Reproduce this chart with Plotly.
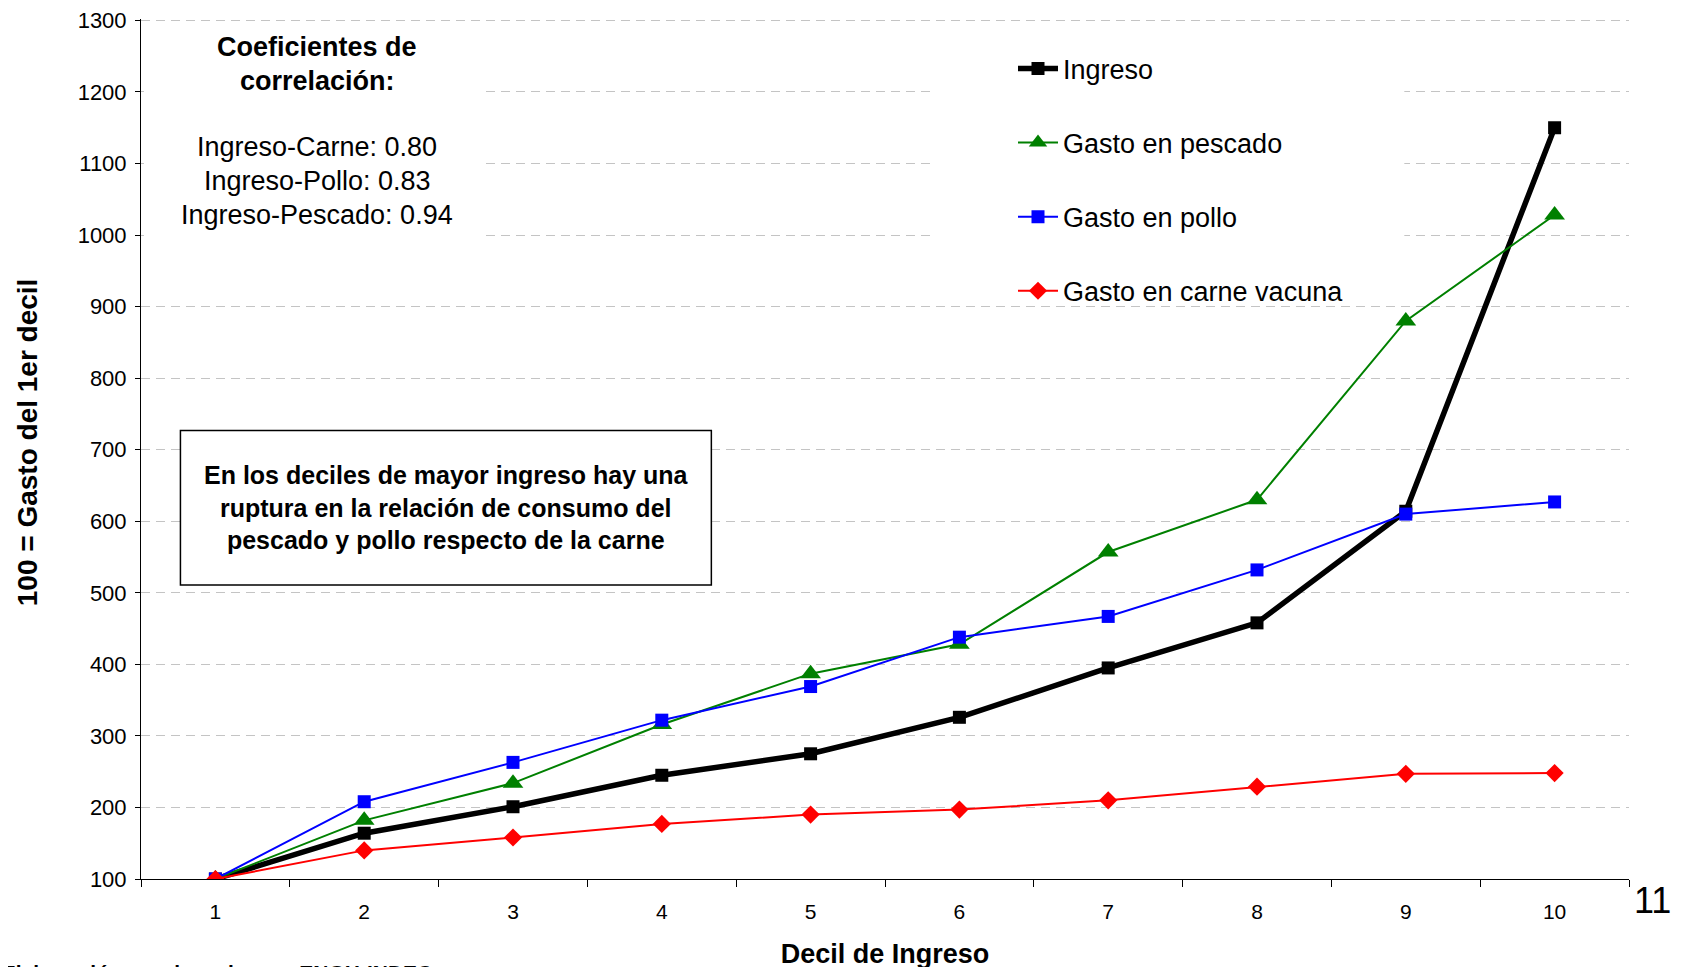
import plotly.graph_objects as go

deciles = [1, 2, 3, 4, 5, 6, 7, 8, 9, 10]
ingreso = [100, 164, 201, 245, 275, 326, 395, 458, 614, 1150]
pescado = [100, 182, 234, 316, 387, 428, 557, 630, 880, 1028]
pollo = [100, 208, 263, 322, 369, 438, 467, 532, 610, 627]
carne = [100, 140, 158, 177, 190, 197, 210, 229, 247, 248]
y_ticks = list(range(100, 1400, 100))

FONT = "Liberation Sans, Arial, sans-serif"

OFF = 8  # page body margin offset
W, H = 1685, 967
Y_TOP = 1302  # a hair above 1300 so the top gridline is drawn
L = 141 - OFF
T = 20 - OFF - (Y_TOP - 1300) * 859 / 1200
R = W - (1629 - OFF)
B = H - (879 - OFF)
PW = W - L - R
PH = H - T - B


def px_x(px):
    # page pixel -> paper coordinate
    return (px - OFF - L) / PW


def px_y(py):
    return (H - B - (py - OFF)) / PH


fig = go.Figure()

series = [
    ("Ingreso", ingreso, "#000000", 5.5, "square", 13),
    ("Gasto en pescado", pescado, "#008000", 2, "triangle-up", 18),
    ("Gasto en pollo", pollo, "#0000FF", 2, "square", 13),
    ("Gasto en carne vacuna", carne, "#FF0000", 2, "diamond", 14),
]
for name, vals, color, lw, sym, ms in series:
    fig.add_trace(go.Scatter(
        x=deciles, y=vals, name=name, legendgroup=name,
        mode="lines+markers",
        line=dict(color=color, width=lw),
        marker=dict(symbol=sym, size=ms, color=color, line=dict(width=0)),
    ))

# white backgrounds hiding gridlines behind text blocks
fig.add_shape(type="rect", xref="x", yref="y", x0=0.52, x1=2.79, y0=960, y1=1280,
              fillcolor="white", line=dict(width=0), layer="between")
fig.add_shape(type="rect", xref="x", yref="y", x0=5.82, x1=8.99, y0=910, y1=1275,
              fillcolor="white", line=dict(width=0), layer="between")
# bordered note box
fig.add_shape(type="rect", xref="x", yref="y", x0=0.765, x1=4.333, y0=511, y1=727,
              fillcolor="white", line=dict(color="black", width=1.5), layer="above")

corr_lines = [
    ("<b>Coeficientes de</b>", 47),
    ("<b>correlación:</b>", 81),
    ("Ingreso-Carne: 0.80", 147),
    ("Ingreso-Pollo: 0.83", 181),
    ("Ingreso-Pescado: 0.94", 215),
]
for txt, yy in corr_lines:
    fig.add_annotation(
        xref="paper", yref="paper", x=px_x(317), y=px_y(yy),
        xanchor="center", yanchor="middle", showarrow=False, align="center",
        text=txt, font=dict(family=FONT, size=27, color="black"),
    )

fig.add_annotation(
    xref="paper", yref="paper", x=px_x(446), y=px_y(507),
    xanchor="center", yanchor="middle", showarrow=False, align="center",
    text="<b>En los deciles de mayor ingreso hay una<br>ruptura en la relación de consumo del<br>"
         "pescado y pollo respecto de la carne</b>",
    font=dict(family=FONT, size=25, color="black"),
)
fig.add_annotation(
    xref="paper", yref="paper", x=px_x(1652), y=px_y(901),
    xanchor="center", yanchor="middle", showarrow=False,
    text="11", font=dict(family=FONT, size=36, color="black"),
)
fig.add_annotation(
    xref="paper", yref="paper", x=px_x(434), y=px_y(959),
    xanchor="right", yanchor="top", showarrow=False,
    text="<b>Fuente: Elaboración propia en base a ENGH-INDEC</b>",
    font=dict(family=FONT, size=21, color="black"),
)
# y-axis title
fig.add_annotation(
    xref="paper", yref="paper", x=px_x(27), y=px_y(442),
    xanchor="center", yanchor="middle", showarrow=False, textangle=-90,
    text="<b>100 = Gasto del 1er decil</b>",
    font=dict(family=FONT, size=28, color="black"),
)

fig.update_layout(
    width=W, height=H,
    margin=dict(l=L, r=R, t=T, b=B, autoexpand=False),
    paper_bgcolor="white", plot_bgcolor="white",
    font=dict(family=FONT, color="black"),
    showlegend=True,
    legend=dict(
        x=px_x(1013), y=px_y(44), xanchor="left", yanchor="top",
        font=dict(family=FONT, size=27, color="black"),
        bgcolor="rgba(0,0,0,0)", tracegroupgap=36, itemwidth=40,
    ),
    xaxis=dict(
        range=[0.5, 10.5], tickvals=deciles, ticktext=[str(d) for d in deciles],
        ticks="", showgrid=False, zeroline=False,
        showline=True, linecolor="black", linewidth=1,
        tickfont=dict(family=FONT, size=21, color="black"),
        ticklabelstandoff=14,
        minor=dict(tickvals=[i + 0.5 for i in range(0, 11)], ticks="outside",
                   ticklen=7, tickcolor="black", tickwidth=1, showgrid=False),
        title=dict(text="<b>Decil de Ingreso</b>", standoff=21,
                   font=dict(family=FONT, size=27, color="black")),
    ),
    yaxis=dict(
        range=[100, Y_TOP], tickvals=y_ticks, ticks="outside", ticklen=5,
        tickcolor="black", showline=True, linecolor="black", linewidth=1,
        zeroline=False, showgrid=True, gridcolor="#C4C4C4", gridwidth=1,
        griddash="9px,6px", ticklabelstandoff=4, ticklabeloverflow="allow",
        tickfont=dict(family=FONT, size=22, color="black"),
    ),
)

fig.write_html("out.html")
